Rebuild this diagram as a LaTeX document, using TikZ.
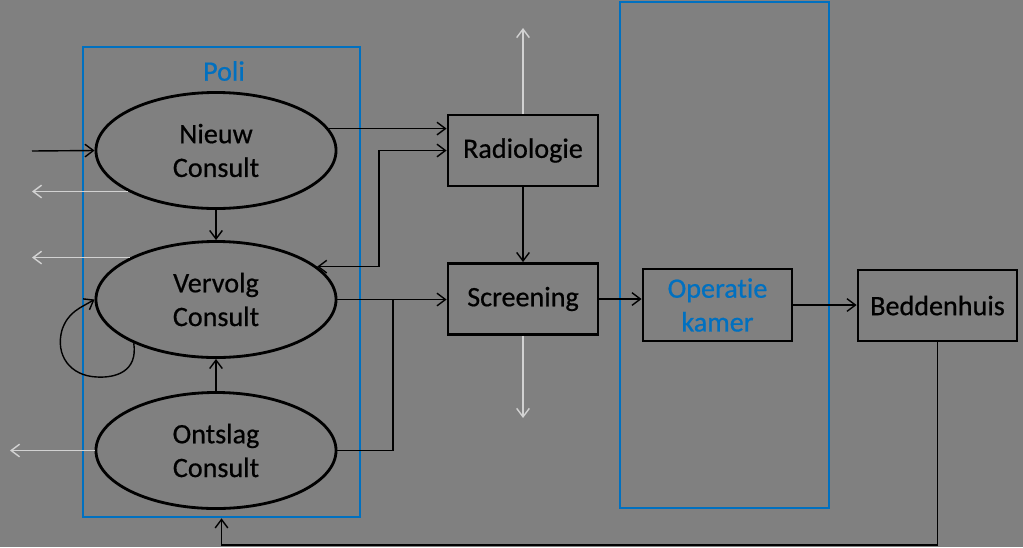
\documentclass[tikz,border=0pt]{standalone}
\usepackage{fontspec}
\setmainfont{Carlito}[Ligatures=NoCommon, FakeBold=0.6]
\usetikzlibrary{shapes.geometric, arrows.meta, positioning}
\definecolor{cBlue}{RGB}{0,112,192}
\definecolor{cBack}{RGB}{128,128,128}
\definecolor{cLight}{RGB}{210,210,210}

\begin{document}
\begin{tikzpicture}[x=0.025cm, y=-0.025cm, font=\fontsize{20}{24}\selectfont,
  >={Straight Barb[length=6pt,width=9pt]},
  consult/.style={ellipse, draw=black, line width=2pt, minimum width=6cm, minimum height=2.9cm, inner sep=0pt, align=center},
  unit/.style={rectangle, draw=black, line width=2pt, minimum height=1.775cm, inner sep=0pt, align=center},
  frame/.style={rectangle, draw=cBlue, line width=1.8pt, inner sep=0pt},
  flow/.style={draw=black, line width=1pt, ->},
  away/.style={draw=cLight, line width=1pt, ->}]
  \fill[cBack] (0,0) rectangle (1023,547);
  \useasboundingbox (0,0) rectangle (1023,547);
  % frames
  \node[frame, minimum width=6.925cm, minimum height=11.75cm] (poli) at (221.5,282) {};
  \node[text=cBlue] (polilabel) at (224,71) {Poli};
  \node[frame, minimum width=5.225cm, minimum height=12.65cm] (okframe) at (724.5,255) {};
  % consults
  \node[consult] (nieuw) at (216,150.5) {Nieuw\\Consult};
  \node[consult] (vervolg) at (216,299.5) {Vervolg\\Consult};
  \node[consult] (ontslag) at (216,450.5) {Ontslag\\Consult};
  % departments
  \node[unit, minimum width=3.75cm] (radio) at (523,150.5) {Radiologie};
  \node[unit, minimum width=3.75cm] (screen) at (523,299) {Screening};
  \node[unit, minimum width=3.725cm, minimum height=1.8cm, text=cBlue] (operatie) at (717.5,305) {Operatie\\kamer};
  \node[unit, minimum width=3.975cm] (bedden) at (937.5,305.5) {Beddenhuis};
  % free ends and bends
  \coordinate (inN) at (32,151);
  \coordinate (outL) at (32,0);
  \coordinate (outLL) at (10,0);
  \coordinate (upR) at (0,28);
  \coordinate (downS) at (0,418);
  \coordinate (kR) at (379,0);
  \coordinate (kS) at (393,0);
  \coordinate (kB) at (0,545);
  % outgoing (light)
  \draw[away] (nieuw.205) -- (nieuw.205 -| outL);
  \draw[away] (vervolg.154) -- (vervolg.154 -| outL);
  \draw[away] (ontslag.west) -- (ontslag.west -| outLL);
  \draw[away] (radio.north) -- (radio.north |- upR);
  \draw[away] (screen.south) -- (screen.south |- downS);
  % flows
  \draw[flow] (inN) -- (nieuw.west);
  \draw[flow] (nieuw.south) -- (vervolg.north);
  \draw[flow] (ontslag.north) -- (vervolg.south);
  \draw[flow] (nieuw.11) -- (nieuw.11 -| radio.west);
  \draw[flow, <->] (vervolg.18) -| (kR |- radio.west) -- (radio.west);
  \draw[flow] (vervolg.east) -- (vervolg.east -| screen.west);
  \draw[flow, -] (ontslag.east) -| (kS |- vervolg.east);
  \draw[flow] (radio.south) -- (screen.north);
  \draw[flow] (screen.east) -- (screen.east -| operatie.west);
  \draw[flow] (operatie.east) -- (operatie.east -| bedden.west);
  \draw[flow] (bedden.south) |- (kB -| poli.south) -- (poli.south);
  % loop on vervolg
  \draw[flow] (vervolg.208) .. controls (138,372) and (115,378) .. (97,377)
    .. controls (70,376) and (55,355) .. (62,330) .. controls (68,312) and (80,308) .. (vervolg.west);
\end{tikzpicture}
\end{document}
